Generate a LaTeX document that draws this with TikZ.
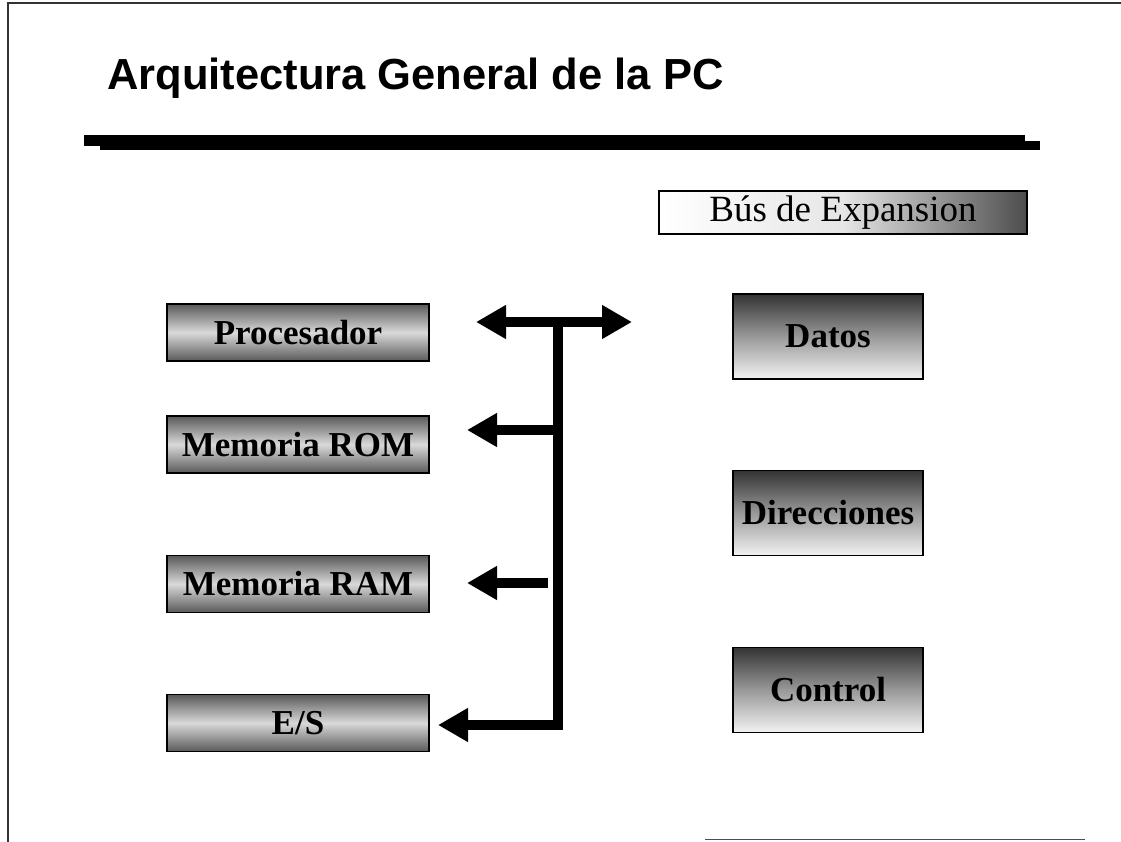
\documentclass[tikz,border=0pt]{standalone}
\usepackage{fontspec}
\setmainfont{Liberation Serif}
\newfontfamily\titlefont{Liberation Sans}[BoldFont={* Bold}]
\usetikzlibrary{arrows.meta}
\tikzset{
  leftbox/.style={rectangle, draw=black, line width=1.5pt, minimum width=262pt, minimum height=57pt,
    top color=black!65, bottom color=black!65, middle color=black!15, inner sep=0pt,
    font=\bfseries\fontsize{35}{40}\selectfont},
  rightbox/.style={rectangle, draw=black, line width=1.5pt, minimum width=190pt, minimum height=85pt,
    top color=black!80, bottom color=black!5, middle color=black!40, inner sep=0pt,
    font=\bfseries\fontsize{35}{40}\selectfont},
  busbox/.style={rectangle, draw=black, line width=1.2pt, minimum width=368pt, minimum height=43pt,
    left color=white, right color=black!70, middle color=black!10, inner sep=0pt,
    font=\fontsize{37}{40}\selectfont},
  busline/.style={line width=10pt, draw=black, line join=miter},
  bushead/.style={-{Triangle[length=30pt,width=32pt]}},
  frameline/.style={line width=1.2pt, draw=black!80}
}
\begin{document}
\begin{tikzpicture}[x=1pt,y=-1pt]
\useasboundingbox (0,0) rectangle (1121,842);
\fill[white] (0,0) rectangle (1121,842);
% frame
\coordinate (ftl) at (8,3);
\coordinate (ftr) at (1121,3);
\coordinate (fbl) at (8,842);
\coordinate (fb1) at (705,839);
\coordinate (fb2) at (1085,839);
\draw[frameline] (ftr) -- (ftl) -- (fbl);
\draw[line width=1pt, draw=black!70] (fb1) -- (fb2);
% title
\node[anchor=base west, inner sep=0pt, font=\titlefont\bfseries\fontsize{43.5}{48}\selectfont] (title) at (107,90) {Arquitectura General de la PC};
% thick rule
\fill[black] (84,135) rectangle (1025,146);
\fill[black] (100,141) rectangle (1040,150);
% left boxes
\node[leftbox] (proc) at (298,332.5) {Procesador};
\node[leftbox] (rom)  at (298,444.5) {Memoria ROM};
\node[leftbox] (ram)  at (298,584)   {Memoria RAM};
\node[leftbox] (es)   at (298,723)   {E/S};
% right boxes
\node[busbox]   (bus)  at (843,212.5) {Bús de Expansion};
\node[rightbox] (datos) at (828,336.5) {Datos};
\node[rightbox] (dir)   at (828,513)   {Direcciones};
\node[rightbox] (ctrl)  at (828,690)   {Control};
% connector points
\coordinate (tipP) at (476,322);
\coordinate (tipD) at (632,322);
\coordinate (jtop) at (558,322);
\coordinate (jrom) at (558,430);
\coordinate (tipR) at (467,430);
\coordinate (ramT) at (548,583);
\coordinate (tipM) at (467,583);
\coordinate (tipE) at (438,725);
% connectors
\draw[busline, {Triangle[length=30pt,width=32pt]}-{Triangle[length=30pt,width=32pt]}] (tipP) -- (tipD);
\draw[busline, bushead] (jtop) |- (tipE);
\draw[busline, bushead] (jrom) -- (tipR);
\draw[busline, bushead] (ramT) -- (tipM);
\end{tikzpicture}
\end{document}
